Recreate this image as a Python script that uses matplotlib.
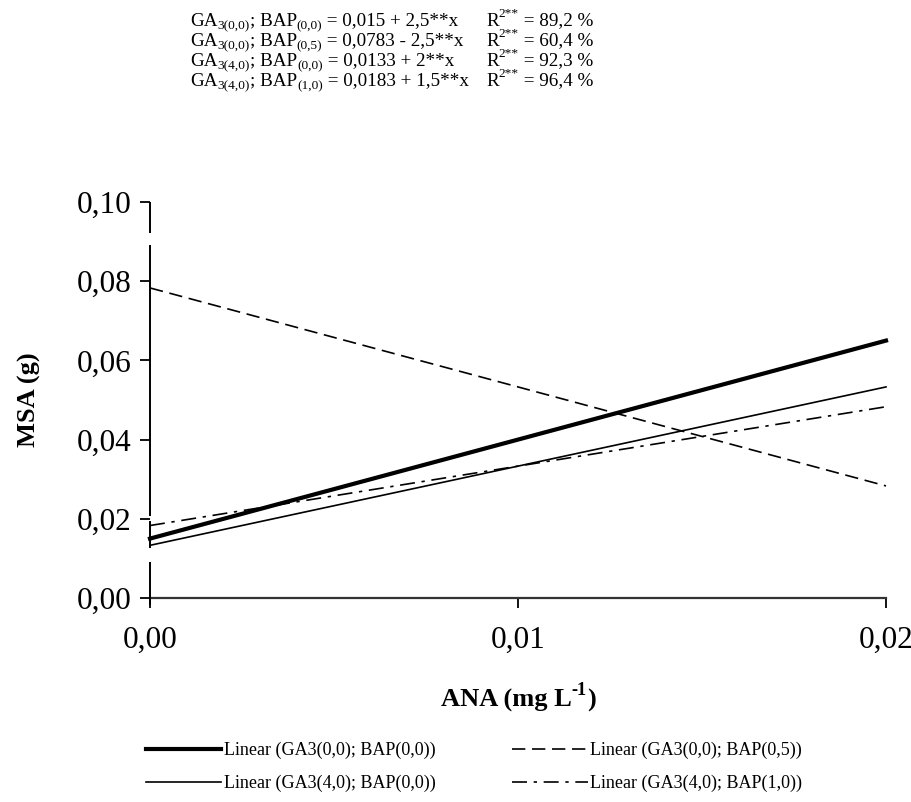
import numpy as np
import matplotlib
matplotlib.use("Agg")
import matplotlib.pyplot as plt
from matplotlib.lines import Line2D

plt.rcParams['font.family'] = ['Liberation Serif', 'DejaVu Serif']

# Fitted linear models: MSA = intercept + slope * ANA
series_labels = [
    "Linear (GA3(0,0); BAP(0,0))",
    "Linear (GA3(0,0); BAP(0,5))",
    "Linear (GA3(4,0); BAP(0,0))",
    "Linear (GA3(4,0); BAP(1,0))",
]
intercepts = [0.015, 0.0783, 0.0133, 0.0183]
slopes = [2.5, -2.5, 2.0, 1.5]
ana_range = [0.0, 0.02]

# Equation lines as (text, position) pieces: 'n' normal, 'sub', 'sup'
equation_pieces = [
    [("GA", "n"), ("3(0,0)", "sub"), ("; BAP", "n"), ("(0,0)", "sub"), (" = 0,015 + 2,5**x", "n")],
    [("GA", "n"), ("3(0,0)", "sub"), ("; BAP", "n"), ("(0,5)", "sub"), (" = 0,0783 - 2,5**x", "n")],
    [("GA", "n"), ("3(4,0)", "sub"), ("; BAP", "n"), ("(0,0)", "sub"), (" = 0,0133 + 2**x", "n")],
    [("GA", "n"), ("3(4,0)", "sub"), ("; BAP", "n"), ("(1,0)", "sub"), (" = 0,0183 + 1,5**x", "n")],
]
r2_values = ["89,2", "60,4", "92,3", "96,4"]

x_ticks = [0.0, 0.01, 0.02]
x_ticklabels = ["0,00", "0,01", "0,02"]
y_ticks = [0.0, 0.02, 0.04, 0.06, 0.08, 0.10]
y_ticklabels = ["0,00", "0,02", "0,04", "0,06", "0,08", "0,10"]

styles = [
    dict(color="black", lw=3.0, ls="-"),
    dict(color="black", lw=1.2, ls=(0, (8, 4))),
    dict(color="black", lw=1.2, ls="-"),
    dict(color="black", lw=1.2, ls=(0, (9, 4, 2, 4))),
]

W, H = 912, 802
fig = plt.figure(figsize=(W / 100, H / 100), dpi=100)
ax = fig.add_axes([150 / W, 1 - 598 / H, 736 / W, 396 / H])

x = np.array(ana_range)
for b0, b1, lab, st in zip(intercepts, slopes, series_labels, styles):
    ax.plot(x, b0 + b1 * x, label=lab, clip_on=False, **st)

ax.set_xlim(0, 0.02)
ax.set_ylim(0, 0.10)
ax.set_xticks(x_ticks)
ax.set_xticklabels(x_ticklabels, fontsize=22.5)
ax.set_yticks(y_ticks)
ax.set_yticklabels(y_ticklabels, fontsize=22.5)
ax.tick_params(axis='both', direction='out', length=7, width=1.3, color='black')
ax.tick_params(axis='x', pad=13)
ax.tick_params(axis='y', pad=6)

for side in ['top', 'right', 'left']:
    ax.spines[side].set_visible(False)
ax.spines['bottom'].set_linewidth(1.6)
ax.spines['bottom'].set_color('#333333')

# left axis line drawn in pieces, with its small gaps
axis_segments = [(-0.0018, 0.0091), (0.0126, 0.0194), (0.0206, 0.0891), (0.0922, 0.10)]
for lo, hi in axis_segments:
    ax.plot([0, 0], [lo, hi], color='black', lw=1.4, clip_on=False,
            solid_capstyle='butt', zorder=5)

ax.set_ylabel("MSA (g)", fontsize=19, fontweight='bold', labelpad=26)

renderer = fig.canvas.get_renderer()


def draw_pieces(x0, yc, pieces, size, weight='normal', center=False):
    """Lay out text pieces left to right, with word-processor style sub/superscripts."""
    texts, widths = [], []
    for txt, kind in pieces:
        if kind == "n":
            fs, dy = size, 0.0
        elif kind == "sub":
            fs, dy = size * 0.7, -size * 0.25
        else:
            fs, dy = size * 0.7, size * 0.36
        t = fig.text(0, 1 - (yc - dy * 1.389) / H, txt, fontsize=fs,
                     fontweight=weight, va='center', ha='left')
        texts.append(t)
        widths.append(t.get_window_extent(renderer=renderer).width)
    xp = x0 - sum(widths) / 2 if center else x0
    for t, w in zip(texts, widths):
        t.set_x(xp / W)
        xp += w
    return xp


# x axis title with a plain superscript "-1"
draw_pieces(518, 700, [("ANA (mg L", "n"), ("-1", "sup"), (")", "n")], 19,
            weight='bold', center=True)

eq_size = 13.8
for i, (pieces, r2) in enumerate(zip(equation_pieces, r2_values)):
    yc = 21 + 20 * i
    draw_pieces(190, yc, pieces, eq_size)
    draw_pieces(486, yc, [("R", "n"), ("2**", "sup"), (" = " + r2 + " %", "n")], eq_size)

order = [0, 2, 1, 3]
handles = [Line2D([0], [0], **st) for st in styles]
fig.legend([handles[k] for k in order], [series_labels[k] for k in order],
           loc='center', bbox_to_anchor=(474 / W, 1 - 767 / H),
           ncol=2, frameon=False, fontsize=13, handlelength=4.2, handletextpad=0.15,
           columnspacing=4.2, labelspacing=0.85, borderpad=0)

fig.savefig("out.png", dpi=100)
